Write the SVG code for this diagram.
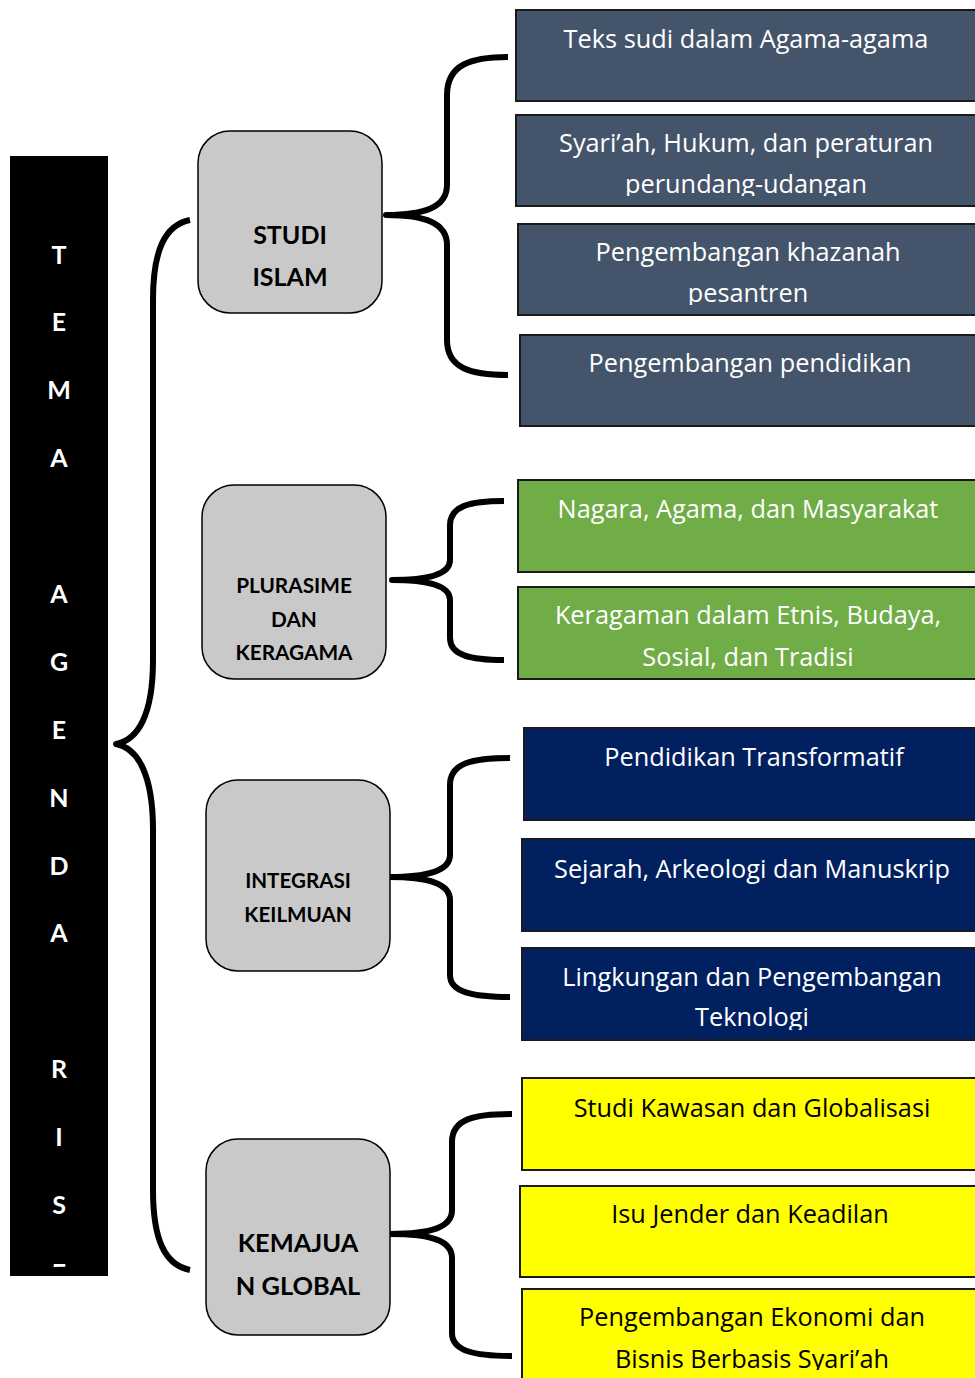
<svg xmlns="http://www.w3.org/2000/svg" width="975" height="1378" viewBox="0 0 975 1378">
<style>
.bar{fill:#000}
.vl{font-family:Lato,"Open Sans",sans-serif;font-weight:bold;font-size:25px;fill:#fff;text-anchor:middle}
.gb{fill:#c9c9c9;stroke:#000;stroke-width:1.5}
.gt{font-family:Lato,"Open Sans",sans-serif;font-weight:bold;fill:#000;text-anchor:middle}
.bx{stroke:#1a1a1a;stroke-width:2}
.slate{fill:#44546a}
.green{fill:#70ad47}
.navy{fill:#002060}
.yel{fill:#ffff00}
.t{font-family:"Open Sans","Noto Sans",sans-serif;font-size:25.3px;text-anchor:middle}
.w{fill:#fff}
.k{fill:#000}
.br{fill:none;stroke:#000;stroke-width:6;stroke-linecap:butt;stroke-linejoin:round}
</style>
<defs>
<clipPath id="cbar"><rect x="10" y="156" width="98" height="1111"/></clipPath>
<clipPath id="c2"><rect x="516" y="115" width="459" height="81"/></clipPath>
<clipPath id="c3"><rect x="518" y="224" width="457" height="81"/></clipPath>
<clipPath id="c9"><rect x="522" y="948" width="453" height="82"/></clipPath>
<clipPath id="c12"><rect x="522" y="1289" width="453" height="81"/></clipPath>
</defs>

<g id="tema-bar">
<rect class="bar" x="10" y="156" width="98" height="1120"/>
<g clip-path="url(#cbar)">
<text class="vl" x="59" y="264">T</text>
<text class="vl" x="59" y="331">E</text>
<text class="vl" x="59" y="399">M</text>
<text class="vl" x="59" y="467">A</text>
<text class="vl" x="59" y="603">A</text>
<text class="vl" x="59" y="671">G</text>
<text class="vl" x="59" y="739">E</text>
<text class="vl" x="59" y="807">N</text>
<text class="vl" x="59" y="875">D</text>
<text class="vl" x="59" y="942">A</text>
<text class="vl" x="59" y="1078">R</text>
<text class="vl" x="59" y="1146">I</text>
<text class="vl" x="59" y="1214">S</text>
<text class="vl" x="59" y="1282">E</text>
</g>
</g>

<g id="connectors">
<path class="br" d="M190,220 C165,225 153,250 153,300 L153,660 C153,715 138,740 116,744 C138,748 153,775 153,830 L153,1190 C153,1240 165,1265 190,1270"/>
<path class="br" d="M508,57 C470,57 447,65 447,95 L447,185 C447,207 425,215 386,215 C425,215 447,223 447,245 L447,340 C447,368 470,375 508,375"/>
<path class="br" d="M504,501 C470,501 450,506 450,525 L450,560 C450,574 430,580 392,580 C430,580 450,586 450,600 L450,638 C450,655 470,660 504,660"/>
<path class="br" d="M510,758 C472,758 450,763 450,785 L450,855 C450,870 430,877 389,877 C430,877 450,884 450,900 L450,975 C450,992 472,997 510,997"/>
<path class="br" d="M512,1114 C474,1114 452,1119 452,1142 L452,1210 C452,1227 432,1234 390,1234 C432,1234 452,1241 452,1258 L452,1333 C452,1351 474,1356 512,1356"/>
</g>

<g id="studi-islam">
<rect class="gb" x="198" y="131" width="184" height="182" rx="32"/>
<text class="gt" x="290" y="244" font-size="25">STUDI</text>
<text class="gt" x="290" y="286" font-size="25">ISLAM</text>
</g>
<g id="plurasime">
<rect class="gb" x="202" y="485" width="184" height="194" rx="32"/>
<text class="gt" x="294" y="593" font-size="20.8">PLURASIME</text>
<text class="gt" x="294" y="627" font-size="20.8">DAN</text>
<text class="gt" x="294" y="660" font-size="20.8">KERAGAMA</text>
</g>
<g id="integrasi">
<rect class="gb" x="206" y="780" width="184" height="191" rx="32"/>
<text class="gt" x="298" y="888" font-size="20.6">INTEGRASI</text>
<text class="gt" x="298" y="922" font-size="20.6">KEILMUAN</text>
</g>
<g id="kemajuan">
<rect class="gb" x="206" y="1139" width="184" height="196" rx="32"/>
<text class="gt" x="298" y="1252" font-size="25.4">KEMAJUA</text>
<text class="gt" x="298" y="1295" font-size="25.4">N GLOBAL</text>
</g>

<g id="n1"><rect class="bx slate" x="516" y="10" width="470" height="91"/><text class="t w" x="746" y="48">Teks sudi dalam Agama-agama</text></g>
<g id="n2"><rect class="bx slate" x="516" y="115" width="470" height="91"/><g clip-path="url(#c2)"><text class="t w" x="746" y="152">Syari’ah, Hukum, dan peraturan</text><text class="t w" x="746" y="193">perundang-udangan</text></g></g>
<g id="n3"><rect class="bx slate" x="518" y="224" width="470" height="91"/><g clip-path="url(#c3)"><text class="t w" x="748" y="261">Pengembangan khazanah</text><text class="t w" x="748" y="302">pesantren</text></g></g>
<g id="n4"><rect class="bx slate" x="520" y="335" width="470" height="91"/><text class="t w" x="750" y="372">Pengembangan pendidikan</text></g>
<g id="n5"><rect class="bx green" x="518" y="480" width="470" height="92"/><text class="t w" x="748" y="518">Nagara, Agama, dan Masyarakat</text></g>
<g id="n6"><rect class="bx green" x="518" y="587" width="470" height="92"/><text class="t w" x="748" y="624">Keragaman dalam Etnis, Budaya,</text><text class="t w" x="748" y="666">Sosial, dan Tradisi</text></g>
<g id="n7"><rect class="bx navy" x="524" y="728" width="470" height="92"/><text class="t w" x="754" y="766">Pendidikan Transformatif</text></g>
<g id="n8"><rect class="bx navy" x="522" y="839" width="470" height="92"/><text class="t w" x="752" y="878">Sejarah, Arkeologi dan Manuskrip</text></g>
<g id="n9"><rect class="bx navy" x="522" y="948" width="470" height="92"/><g clip-path="url(#c9)"><text class="t w" x="752" y="986">Lingkungan dan Pengembangan</text><text class="t w" x="752" y="1026">Teknologi</text></g></g>
<g id="n10"><rect class="bx yel" x="522" y="1078" width="470" height="92"/><text class="t k" x="752" y="1117">Studi Kawasan dan Globalisasi</text></g>
<g id="n11"><rect class="bx yel" x="520" y="1186" width="470" height="91"/><text class="t k" x="750" y="1223">Isu Jender dan Keadilan</text></g>
<g id="n12"><rect class="bx yel" x="522" y="1289" width="470" height="100"/><g clip-path="url(#c12)"><text class="t k" x="752" y="1326">Pengembangan Ekonomi dan</text><text class="t k" x="752" y="1368">Bisnis Berbasis Syari’ah</text></g></g>
</svg>
